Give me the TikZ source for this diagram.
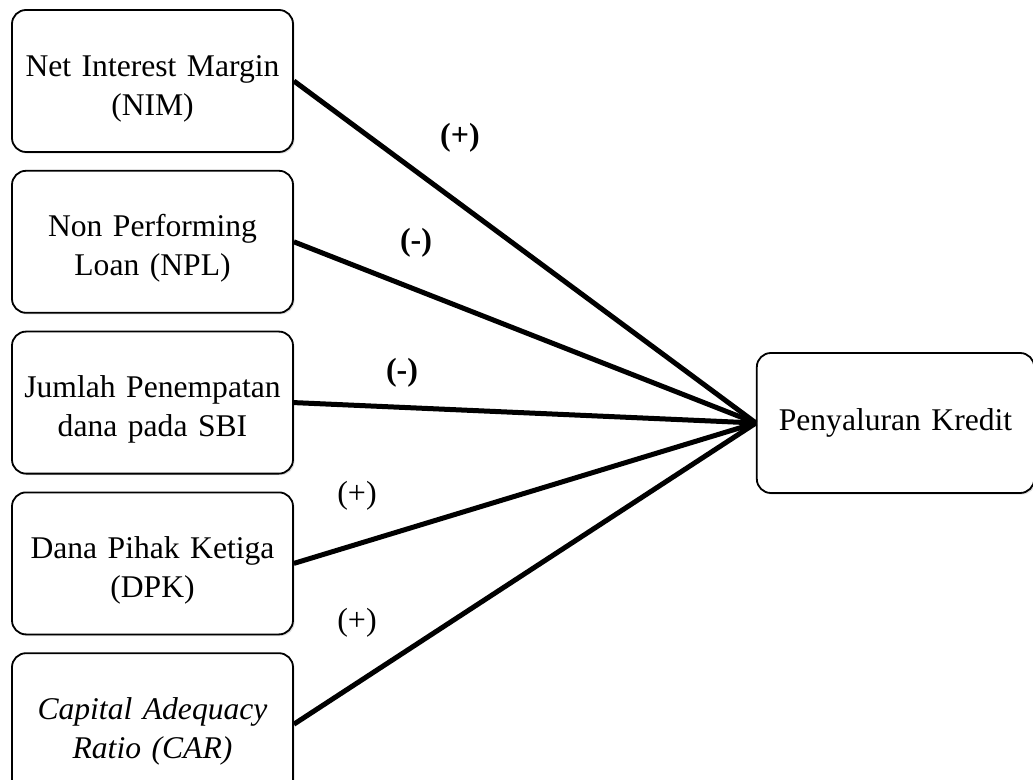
\documentclass[tikz,border=0pt]{standalone}
\usepackage{fontspec}
\setmainfont{Liberation Serif}
\usetikzlibrary{positioning,shadows}

\begin{document}
\begin{tikzpicture}[x=0.5pt, y=-0.5pt, node distance=8.5pt]
    % Define styles
    \tikzstyle{varbox} = [rectangle, draw=black, line width=0.9pt, fill=white, rounded corners=7pt, text width=132pt, align=center, minimum width=140.5pt, minimum height=71pt, font=\fontsize{15.8}{19.5}\selectfont, drop shadow={opacity=0.25, shadow xshift=0.8pt, shadow yshift=-0.8pt}]
    \tikzstyle{leftbox} = [varbox, execute at begin node={\rule{0pt}{18pt}}]
    \tikzstyle{link} = [line width=2.5pt]
    \tikzstyle{signlabel} = [font=\fontsize{16}{18}\selectfont]

    \clip (0,0) rectangle (1033,780);

    % Independent variables
    \node [leftbox] (nim) at (152.5,81) {Net Interest Margin\\(NIM)};
    \node [leftbox, below=of nim] (npl) {Non Performing\\Loan (NPL)};
    \node [leftbox, below=of npl] (sbi) {Jumlah Penempatan\\dana pada SBI};
    \node [leftbox, below=of sbi] (dpk) {Dana Pihak Ketiga\\(DPK)};
    \node [leftbox, below=of dpk] (car) {\itshape Capital Adequacy\\Ratio (CAR)};

    % Dependent variable
    \node [varbox, minimum width=136.5pt, minimum height=70pt] (kredit) at (895.5,423) {Penyaluran Kredit};

    % Links
    \draw [link] (nim.east) -- (kredit.west);
    \draw [link] (npl.east) -- (kredit.west);
    \draw [link] (sbi.east) -- (kredit.west);
    \draw [link] (dpk.east) -- (kredit.west);
    \draw [link] (car.east) -- (kredit.west);

    % Signs
    \node [signlabel] (s_nim) at (460,138) {\bfseries (+)};
    \node [signlabel] (s_npl) at (416,243) {\bfseries (-)};
    \node [signlabel] (s_sbi) at (402,373) {\bfseries (-)};
    \node [signlabel] (s_dpk) at (357,496) {(+)};
    \node [signlabel] (s_car) at (357,623) {(+)};
\end{tikzpicture}
\end{document}
